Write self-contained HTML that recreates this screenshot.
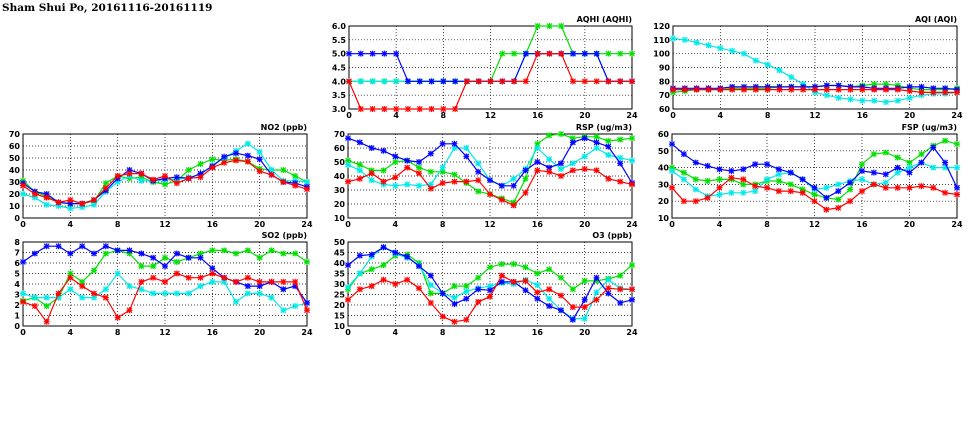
<!DOCTYPE html>
<html><head><meta charset="utf-8">
<style>
body{margin:0;background:#fff;width:975px;height:447px;overflow:hidden}
svg{display:block}
text{font-family:"DejaVu Sans","Liberation Sans",sans-serif;font-weight:bold;font-size:8px;fill:#000}
</style></head>
<body>
<svg id="chart" width="975" height="447" xmlns="http://www.w3.org/2000/svg">
<text x="2" y="11" style="font-size:10.5px;font-family:'DejaVu Serif','Liberation Serif',serif">Sham Shui Po, 20161116-20161119</text>
</svg>
<script>
const hours=[0,1,2,3,4,5,6,7,8,9,10,11,12,13,14,15,16,17,18,19,20,21,22,23,24];
const xTicks=[0,4,8,12,16,20,24];
const seriesNames=["green","cyan","blue","red"];
const seriesColors=["#00e000","#00e8e8","#0000ff","#ff0000"];
const panelTitles=["AQHI (AQHI)","AQI (AQI)","NO2 (ppb)","RSP (ug/m3)","FSP (ug/m3)","SO2 (ppb)","O3 (ppb)"];
const aqhiTicks=[3.0,3.5,4.0,4.5,5.0,5.5,6.0];
const aqiTicks=[60,70,80,90,100,110,120];
const no2Ticks=[0,10,20,30,40,50,60,70];
const rspTicks=[10,20,30,40,50,60,70];
const fspTicks=[10,20,30,40,50,60];
const so2Ticks=[0,1,2,3,4,5,6,7,8];
const o3Ticks=[10,15,20,25,30,35,40,45,50];
// AQHI
const aqhiGreen=[4,4,4,4,4,4,4,4,4,4,4,4,4,5,5,5,6,6,6,5,5,5,5,5,5];
const aqhiCyan=[4,4,4,4,4,4,4,4,4,4,4,4,4,4,4,5,5,5,5,5,5,5,4,4,4];
const aqhiBlue=[5,5,5,5,5,4,4,4,4,4,4,4,4,4,4,5,5,5,5,5,5,5,4,4,4];
const aqhiRed=[4,3,3,3,3,3,3,3,3,3,4,4,4,4,4,4,5,5,5,4,4,4,4,4,4];
// AQI
const aqiGreen=[72,73,74,74,74,75,75,75,75,76,76,76,76,77,77,76,77,78,78,77,75,74,74,74,75];
const aqiCyan=[111,110,108,106,104,102,100,95,92,88,83,78,72,70,68,67,66,66,65,66,68,70,71,71,72];
const aqiBlue=[75,75,75,75,75,76,76,76,76,76,76,76,76,77,77,76,76,75,75,75,76,76,75,75,74];
const aqiRed=[74,74,74,74,74,74,74,74,74,74,74,74,74,74,74,74,74,74,74,74,73,72,72,72,72];
// NO2
const no2Green=[31,22,18,13,12,12,14,29,35,33,34,30,28,31,40,45,49,48,49,47,41,40,40,35,30];
const no2Cyan=[20,17,11,10,8,9,11,22,30,35,31,31,32,32,34,36,44,50,56,62,55,40,31,31,30];
const no2Blue=[29,22,20,13,12,12,15,23,33,40,37,31,33,34,33,37,43,51,54,52,49,36,30,29,26];
const no2Red=[27,20,17,13,15,12,15,25,35,37,37,32,35,29,33,34,42,46,48,47,39,36,30,27,24];
// RSP
const rspGreen=[51,48,44,44,50,51,46,43,43,41,35,29,27,24,21,38,63,69,70,67,68,68,65,66,67];
const rspCyan=[48,44,37,34,33,34,33,34,46,60,60,49,37,33,38,45,60,52,45,49,54,60,55,53,51];
const rspBlue=[67,64,60,58,54,51,50,56,63,63,54,43,37,33,33,44,50,46,49,64,67,64,61,49,35];
const rspRed=[36,38,42,36,39,46,42,31,35,36,36,37,27,23,19,28,44,43,40,44,45,44,38,36,34];
// FSP
const fspGreen=[40,37,33,32,33,33,30,30,32,32,30,27,24,22,21,27,42,48,49,46,43,48,53,56,54];
const fspCyan=[38,33,27,23,24,25,25,26,33,36,37,33,27,28,30,32,33,30,31,37,40,43,40,40,40];
const fspBlue=[54,48,43,41,39,38,39,42,42,39,37,33,28,22,26,31,38,37,36,40,37,43,52,43,28];
const fspRed=[28,20,20,22,28,34,33,29,28,26,26,25,20,15,16,20,26,30,28,28,28,29,28,25,24];
// SO2
const so2Green=[2.4,2.7,1.9,2.7,5.0,4.2,5.3,6.9,7.2,6.9,5.7,5.7,6.5,6.1,6.5,6.9,7.2,7.2,6.9,7.2,6.5,7.2,6.9,6.9,6.1];
const so2Cyan=[3.1,2.7,2.7,2.7,3.5,2.7,2.7,3.5,5.0,3.8,3.5,3.1,3.1,3.1,3.1,3.8,4.2,4.2,2.3,3.1,3.1,2.7,1.5,1.9,2.2];
const so2Blue=[6.1,6.9,7.6,7.6,6.9,7.6,6.9,7.6,7.2,7.2,6.9,6.5,5.7,6.9,6.5,6.5,5.5,4.6,4.2,3.8,3.8,4.2,3.5,3.8,2.2];
const so2Red=[2.3,1.9,0.4,3.1,4.6,3.8,3.1,2.7,0.8,1.5,4.2,4.6,4.2,5.0,4.6,4.6,5.0,4.6,4.2,4.6,4.2,4.2,4.2,4.2,1.5];
// O3
const o3Green=[27.5,35,37,39,43.5,44,40,25.5,25.5,29,29,33,38,39.5,39.5,38,35,37,33,27.5,31.5,31.5,32.5,34,39];
const o3Cyan=[28.5,35,43,47.5,44.5,42.5,39,29.5,25.5,23.5,26.5,28,29,30.5,30,32,29.5,23,17.5,13.5,13.5,26,32,28,27.5];
const o3Blue=[39,43.5,44,47.5,45,43,38.5,34,25.5,20.5,23,27.5,27,31,31,27,23,19.5,17.5,13,22.5,33,25.5,21,22.5];
const o3Red=[22.5,27.5,29,32,30,32,28,21,14.5,12,13,21.5,24,34,31,31.5,26,27.5,24.5,19,19,22.5,28,27.5,27.5];

const NS="http://www.w3.org/2000/svg";
const svg=document.getElementById('chart');
function mk(tag,attrs,parent){const e=document.createElementNS(NS,tag);for(const k in attrs)e.setAttribute(k,attrs[k]);(parent||svg).appendChild(e);return e;}

const panels=[
 {key:"aqhi",x0:349,x1:632,y0:26,y1:109,ticks:aqhiTicks,fmt:v=>v.toFixed(1),data:[aqhiGreen,aqhiCyan,aqhiBlue,aqhiRed]},
 {key:"aqi",x0:673,x1:957,y0:26,y1:109,ticks:aqiTicks,fmt:v=>String(v),data:[aqiGreen,aqiCyan,aqiBlue,aqiRed]},
 {key:"no2",x0:23,x1:307,y0:134,y1:218,ticks:no2Ticks,fmt:v=>String(v),data:[no2Green,no2Cyan,no2Blue,no2Red]},
 {key:"rsp",x0:348,x1:632,y0:134,y1:218,ticks:rspTicks,fmt:v=>String(v),data:[rspGreen,rspCyan,rspBlue,rspRed]},
 {key:"fsp",x0:672,x1:957,y0:134,y1:218,ticks:fspTicks,fmt:v=>String(v),data:[fspGreen,fspCyan,fspBlue,fspRed]},
 {key:"so2",x0:23,x1:307,y0:242,y1:326,ticks:so2Ticks,fmt:v=>String(v),data:[so2Green,so2Cyan,so2Blue,so2Red]},
 {key:"o3",x0:348,x1:632,y0:242,y1:326,ticks:o3Ticks,fmt:v=>String(v),data:[o3Green,o3Cyan,o3Blue,o3Red]}
];

panels.forEach((p,pi)=>{
 const g=mk('g',{});
 
 
 const ymin=p.ticks[0],ymax=p.ticks[p.ticks.length-1];
 const sx=h=>p.x0+(h-0)/(24-0)*(p.x1-p.x0);
 const sy=v=>p.y1-(v-ymin)/(ymax-ymin)*(p.y1-p.y0);
 // grid
 p.ticks.forEach(t=>{
  const y=sy(t);
  if(t!==ymin&&t!==ymax){const l=mk('line',{x1:p.x0,x2:p.x1,y1:y,y2:y,stroke:'#000','stroke-width':0.7,'stroke-dasharray':'1,2'},g);
   }
  const tl=mk('text',{x:p.x0-3,y:y+3,'text-anchor':'end'},g);tl.textContent=p.fmt(t);
  
 });
 xTicks.forEach(h=>{
  const x=sx(h);
  if(h!==0&&h!==24){const l=mk('line',{x1:x,x2:x,y1:p.y0,y2:p.y1,stroke:'#000','stroke-width':0.7,'stroke-dasharray':'1,2'},g);
   }
  const tl=mk('text',{x:x,y:p.y1+9,'text-anchor':'middle'},g);tl.textContent=String(h);
  
 });
 const fr=mk('rect',{x:p.x0,y:p.y0,width:p.x1-p.x0,height:p.y1-p.y0,fill:'none',stroke:'#000','stroke-width':1},g);
 
 const tt=mk('text',{x:p.x1,y:p.y0-4,'text-anchor':'end'},g);tt.textContent=panelTitles[pi];
 
 p.data.forEach((vals,si)=>{
  const col=seriesColors[si];
  const pts=hours.map((h,i)=>sx(h).toFixed(1)+','+sy(vals[i]).toFixed(1)).join(' ');
  const pl=mk('polyline',{points:pts,fill:'none',stroke:col,'stroke-width':1.2},g);
  
  
  hours.forEach((h,i)=>{
   const x=sx(h),y=sy(vals[i]);
   const m=mk('g',{},g);
   
   
   mk('rect',{x:x-2.5,y:y-2.5,width:5,height:5,fill:col,'fill-opacity':0.35},m);
   mk('path',{d:`M${x-2.5},${y-2.5}L${x+2.5},${y+2.5}M${x-2.5},${y+2.5}L${x+2.5},${y-2.5}M${x-3},${y}L${x+3},${y}M${x},${y-3}L${x},${y+3}`,stroke:col,'stroke-width':1},m);
  });
 });
});
</script>
</body></html>
